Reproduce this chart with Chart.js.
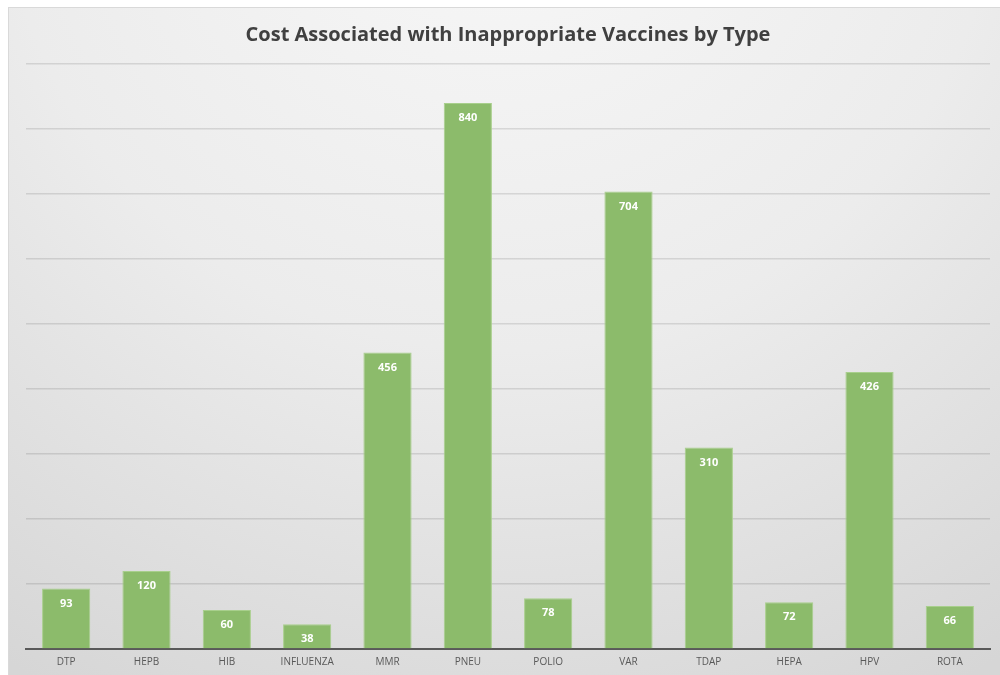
<!DOCTYPE html>
<html>
<head>
<meta charset="utf-8">
<script src="https://cdn.jsdelivr.net/npm/chart.js@4"></script>
<style>
html,body{margin:0;padding:0;background:#fff;}
#wrap{width:1000px;height:675px;position:relative;}
</style>
</head>
<body>
<div id="wrap"><canvas id="c" width="1000" height="675"></canvas></div>
<script>
const categories = ["DTP","HEPB","HIB","INFLUENZA","MMR","PNEU","POLIO","VAR","TDAP","HEPA","HPV","ROTA"];
const costValues = [93,120,60,38,456,840,78,704,310,72,426,66];
const chartTitle = "Cost Associated with Inappropriate Vaccines by Type";

const bgPlugin = {
  id: 'bg',
  beforeDraw(chart) {
    const ctx = chart.ctx;
    ctx.save();
    ctx.fillStyle = '#ffffff';
    ctx.fillRect(0,0,chart.width,chart.height);
    const g = ctx.createRadialGradient(500, -150, 50, 500, -150, 950);
    g.addColorStop(0, '#f7f7f7');
    g.addColorStop(0.5, '#ececec');
    g.addColorStop(1, '#d6d6d6');
    ctx.fillStyle = g;
    ctx.fillRect(8,7,992,668);
    ctx.strokeStyle = '#d9d9d9';
    ctx.lineWidth = 1;
    ctx.strokeRect(8.5,7.5,992,668);
    ctx.restore();
  }
};

const labelPlugin = {
  id: 'vals',
  afterDatasetsDraw(chart) {
    const ctx = chart.ctx;
    const meta = chart.getDatasetMeta(0);
    ctx.save();
    ctx.fillStyle = '#ffffff';
    ctx.font = 'bold 11px "Open Sans", sans-serif';
    ctx.textAlign = 'center';
    ctx.textBaseline = 'middle';
    meta.data.forEach((bar, i) => {
      ctx.fillText(String(chart.data.datasets[0].data[i]), bar.x, bar.y + 15);
    });
    ctx.restore();
  }
};

new Chart(document.getElementById('c'), {
  type: 'bar',
  data: {
    labels: categories,
    datasets: [{
      data: costValues,
      backgroundColor: '#8cbb6b',
      borderColor: '#a8cf8c',
      borderWidth: 1,
      barPercentage: 0.6,
      categoryPercentage: 1.0
    }]
  },
  options: {
    responsive: false,
    animation: false,
    devicePixelRatio: 1,
    layout: { padding: { left: 26, right: 10, top: 16, bottom: 0 } },
    plugins: {
      legend: { display: false },
      tooltip: { enabled: false },
      title: {
        display: true,
        text: chartTitle,
        color: '#404040',
        font: { family: '"Open Sans", sans-serif', size: 20, weight: 'bold' },
        padding: { top: 7, bottom: 17 }
      }
    },
    scales: {
      x: {
        grid: { display: false, drawTicks: false },
        border: { display: true, color: '#595959', width: 2 },
        ticks: { color: '#595959', font: { family: '"Open Sans", sans-serif', size: 10 }, padding: 7 }
      },
      y: {
        min: 0, max: 900,
        ticks: { display: false, stepSize: 100 },
        grid: { color: 'rgba(0,0,0,0.11)', lineWidth: 1.5, drawTicks: false },
        border: { display: false }
      }
    }
  },
  plugins: [bgPlugin, labelPlugin]
});
</script>
</body>
</html>
